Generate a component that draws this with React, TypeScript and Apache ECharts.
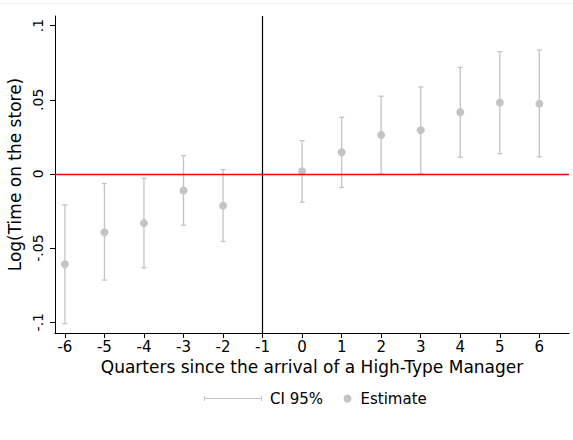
import React, { useEffect, useRef } from "react";
import * as echarts from "echarts";

const quarters = [-6, -5, -4, -3, -2, 0, 1, 2, 3, 4, 5, 6];
const estimates = [-0.0609, -0.0393, -0.0332, -0.0112, -0.0214, 0.0018, 0.0146, 0.0263, 0.0294, 0.0416, 0.0481, 0.0474];
const ciLow = [-0.101, -0.0716, -0.0633, -0.0346, -0.0456, -0.0191, -0.0092, 0.0, 0.0, 0.0113, 0.0137, 0.0115];
const ciHigh = [-0.0209, -0.0065, -0.0029, 0.0123, 0.0029, 0.0224, 0.0382, 0.0524, 0.0586, 0.0719, 0.0824, 0.0836];
const xTicks = [-6, -5, -4, -3, -2, -1, 0, 1, 2, 3, 4, 5, 6];
const yTicks = [-0.1, -0.05, 0, 0.05, 0.1];
const yTickLabels = ["-.1", "-.05", "0", ".05", ".1"];

const FONT = "DejaVu Sans";
const GRAY = "#c4c4c4";

export default function App() {
  const ref = useRef<HTMLDivElement>(null);
  useEffect(() => {
    if (!ref.current) return;
    document.body.style.margin = "0";
    const chart = echarts.init(ref.current, null, { renderer: "svg" });
    const ciData = quarters.map((q, i) => [q, ciLow[i], ciHigh[i]]);
    const ptData = quarters.map((q, i) => [q, estimates[i]]);
    chart.setOption({
      animation: false,
      backgroundColor: "#ffffff",
      textStyle: { fontFamily: FONT },
      graphic: [
        {
          type: "line",
          shape: { x1: 0, y1: 3.5, x2: 573, y2: 3.5 },
          style: { stroke: "#eeeeee", lineWidth: 1 },
          silent: true,
        },
      ],
      grid: { left: 55, right: 4, top: 16, bottom: 107, containLabel: false, outerBoundsMode: "none" },
      xAxis: {
        type: "value",
        min: -6.25,
        max: 6.75,
        name: "Quarters since the arrival of a High-Type Manager",
        nameLocation: "middle",
        nameGap: 18,
        nameTextStyle: { fontFamily: FONT, fontSize: 17, color: "#000" },
        axisLine: { show: true, onZero: false, lineStyle: { color: "#000", width: 1 } },
        axisTick: { show: true, customValues: xTicks, length: 5, lineStyle: { color: "#000" } },
        axisLabel: {
          customValues: xTicks,
          margin: 6,
          fontFamily: FONT,
          fontSize: 15,
          color: "#000",
          formatter: (v: number) => String(v),
        },
        splitLine: { show: false },
      },
      yAxis: {
        type: "value",
        min: -0.1073,
        max: 0.1065,
        name: "Log(Time on the store)",
        nameLocation: "middle",
        nameRotate: 90,
        nameGap: 25,
        nameTextStyle: { fontFamily: FONT, fontSize: 17, color: "#000" },
        axisLine: { show: true, onZero: false, lineStyle: { color: "#000", width: 1 } },
        axisTick: { show: true, customValues: yTicks, length: 5, lineStyle: { color: "#000" } },
        axisLabel: {
          customValues: yTicks,
          rotate: 90,
          margin: 10,
          fontFamily: FONT,
          fontSize: 14,
          color: "#000",
          formatter: (v: number) => {
            const idx = yTicks.findIndex((t) => Math.abs(t - v) < 1e-9);
            return idx >= 0 ? yTickLabels[idx] : "";
          },
        },
        splitLine: { show: false },
      },
      legend: [
        {
          data: [
            {
              name: "CI 95%",
              icon: "path://M0,3.5h58v1h-58z M0,1.5h1v5h-1z M57,1.5h1v5h-1z",
              itemStyle: { color: GRAY },
            },
          ],
          left: 204,
          top: 391,
          padding: 0,
          itemWidth: 58,
          itemHeight: 8,
          itemGap: 8,
          textStyle: { fontFamily: FONT, fontSize: 15, color: "#000", padding: [0, 0, 0, 3] },
        },
        {
          data: [{ name: "Estimate", icon: "circle", itemStyle: { color: GRAY } }],
          left: 343.5,
          top: 391,
          padding: 0,
          itemWidth: 8,
          itemHeight: 8,
          itemGap: 8,
          textStyle: { fontFamily: FONT, fontSize: 15, color: "#000", padding: [0, 0, 0, 4] },
        },
      ],
      series: [
        {
          name: "CI 95%",
          type: "custom",
          data: ciData,
          encode: { x: 0, y: [1, 2] },
          itemStyle: { color: GRAY },
          z: 3,
          renderItem: (params: any, api: any) => {
            const x = api.value(0);
            const lo = api.coord([x, api.value(1)]);
            const hi = api.coord([x, api.value(2)]);
            const cap = 2.5;
            const st = { stroke: GRAY, lineWidth: 1.3 };
            return {
              type: "group",
              children: [
                { type: "line", shape: { x1: lo[0], y1: lo[1], x2: hi[0], y2: hi[1] }, style: st },
                { type: "line", shape: { x1: lo[0] - cap, y1: lo[1], x2: lo[0] + cap, y2: lo[1] }, style: st },
                { type: "line", shape: { x1: hi[0] - cap, y1: hi[1], x2: hi[0] + cap, y2: hi[1] }, style: st },
              ],
            };
          },
        },
        {
          name: "Estimate",
          type: "scatter",
          data: ptData,
          symbol: "circle",
          symbolSize: 8,
          itemStyle: { color: GRAY, opacity: 1 },
          z: 4,
          markLine: {
            silent: true,
            symbol: "none",
            label: { show: false },
            data: [
              { yAxis: 0, lineStyle: { color: "#ff0000", width: 1.3, type: "solid" } },
              { xAxis: -1, lineStyle: { color: "#000000", width: 1.2, type: "solid" } },
            ],
          },
        },
      ],
    });
    return () => chart.dispose();
  }, []);
  return <div ref={ref} style={{ width: 573, height: 440 }} />;
}
